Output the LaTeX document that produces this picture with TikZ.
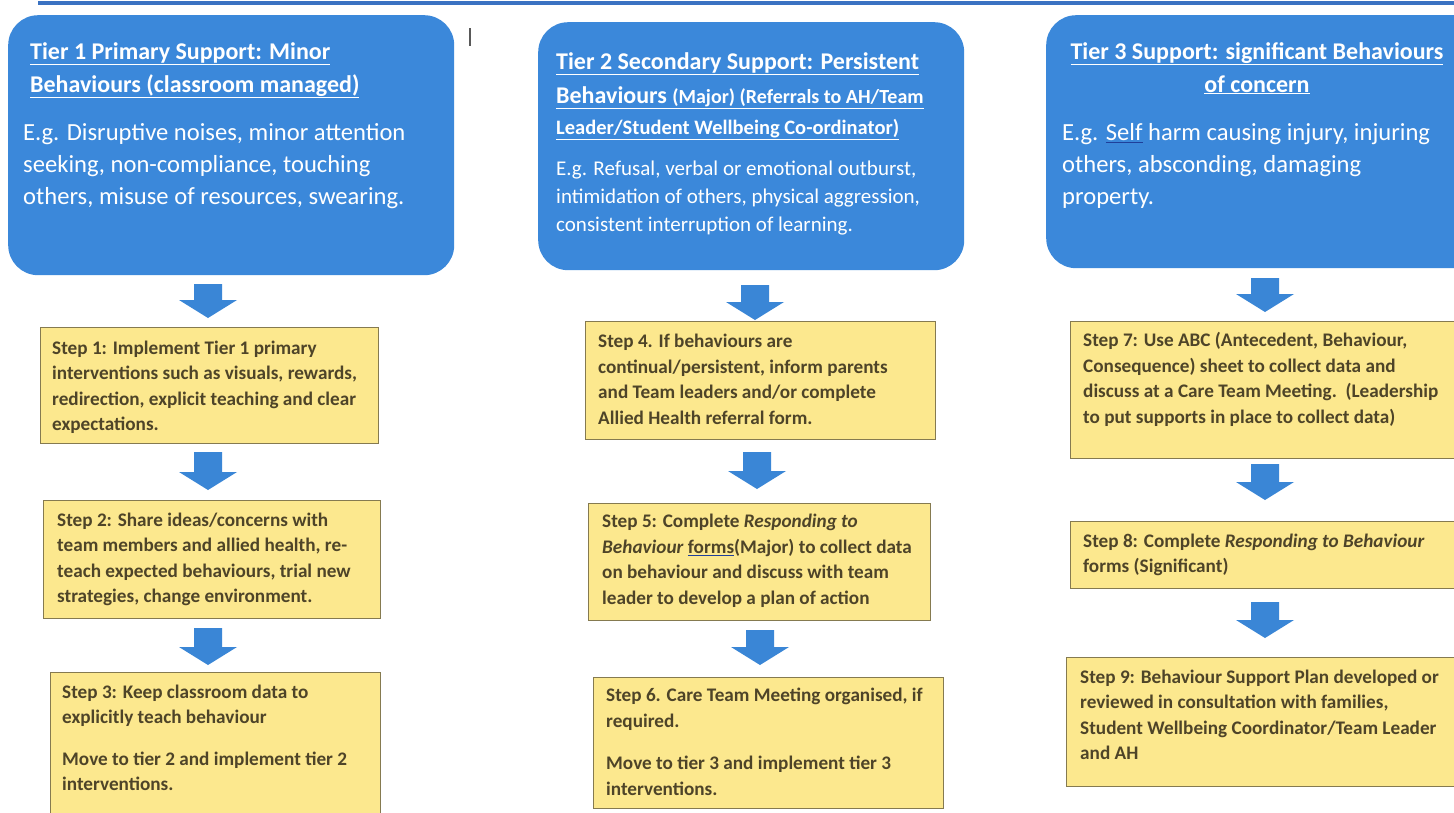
\documentclass[tikz,border=0pt]{standalone}
\usepackage{fontspec}
\setmainfont{Carlito}
\definecolor{tblue}{HTML}{3B88DA}
\definecolor{ablue}{HTML}{3A86D6}
\definecolor{lineblue}{HTML}{3A72C2}
\definecolor{syellow}{HTML}{FCE88E}
\definecolor{sborder}{HTML}{857A50}
\definecolor{stext}{HTML}{4E4428}
\definecolor{spellblue}{HTML}{1F3F9A}
\newcommand\dnarrow[3]{%
  \fill[ablue] (#1-14,#2) -- (#1+14,#2) -- (#1+14,#3-18) -- (#1+29,#3-18) -- (#1,#3) -- (#1-29,#3-18) -- (#1-14,#3-18) -- cycle;}
\newcommand\spellul[1]{\rlap{\color{spellblue}\underline{\phantom{#1}}}#1}
\begin{document}
\begin{tikzpicture}[x=1pt,y=-1pt,
  tierbox/.style={fill=tblue, rounded corners=30pt, draw=none, anchor=north west, inner sep=0},
  stepbox/.style={fill=syellow, draw=sborder, line width=1.3pt, anchor=north west, inner sep=0},
  tiertitle/.style={text=white, font=\bfseries\fontsize{24}{33}\selectfont, inner sep=0, align=left, anchor=north west},
  tierbody/.style={text=white, font=\fontsize{24.6}{32}\selectfont, inner sep=0, align=left, anchor=north west},
  steptext/.style={text=stext, font=\bfseries\fontsize{19.2}{25.5}\selectfont, inner sep=0, align=left, anchor=north west}]
\useasboundingbox (0,0) rectangle (1454,812);
\fill[white] (0,0) rectangle (1454,812);
% top rule
\draw[lineblue, line width=4pt] (38,3) -- (1454,3);
\draw[gray!70!black, line width=1.5pt] (470,28) -- (470,46);

% tier boxes
\node[tierbox, minimum width=446, minimum height=260] (t1) at (8,15) {};
\node[tierbox, minimum width=426, minimum height=248] (t2) at (538,22) {};
\node[tierbox, minimum width=440, minimum height=253] (t3) at (1046,15) {};

% tier texts
\node[tiertitle] (t1h) at (30,42) {\underline{Tier 1 Primary Support: Minor}\\ \underline{Behaviours (classroom managed)}};
\node[tierbody] (t1b) at (23,123.5) {E.g. Disruptive noises, minor attention\\ seeking, non-compliance, touching\\ others, misuse of resources, swearing.};

\node[tiertitle, font=\bfseries\fontsize{24}{33}\selectfont] (t2h) at (556,52) {\underline{Tier 2 Secondary Support: Persistent}\\[1pt]
 \underline{Behaviours {\fontsize{20}{20}\selectfont (Major) (Referrals to AH/Team}}\\[-2pt]
 {\fontsize{20.5}{20}\selectfont\underline{Leader/Student Wellbeing Co-ordinator)}}};
\node[tierbody, font=\fontsize{21}{28}\selectfont] (t2b) at (556,161) {E.g. Refusal, verbal or emotional outburst,\\ intimidation of others, physical aggression,\\ consistent interruption of learning.};

\node[tiertitle, align=center, anchor=north] (t3h) at (1257,42) {\underline{Tier 3 Support: significant Behaviours}\\ \underline{of concern}};
\node[tierbody] (t3b) at (1062,123.5) {E.g. \spellul{Self} harm causing injury, injuring\\ others, absconding, damaging\\ property.};

% step boxes
\node[stepbox, minimum width=338, minimum height=116] (s1) at (40,327) {};
\node[stepbox, minimum width=337, minimum height=118] (s2) at (43,500) {};
\node[stepbox, minimum width=330, minimum height=150] (s3) at (50,672) {};
\node[stepbox, minimum width=350, minimum height=118] (s4) at (585,321) {};
\node[stepbox, minimum width=342, minimum height=117] (s5) at (588,503) {};
\node[stepbox, minimum width=350, minimum height=131] (s6) at (593,677) {};
\node[stepbox, minimum width=394, minimum height=137] (s7) at (1070,321) {};
\node[stepbox, minimum width=394, minimum height=67] (s8) at (1070,521) {};
\node[stepbox, minimum width=398, minimum height=129] (s9) at (1066,657) {};

% step texts
\node[steptext] (s1t) at (52,340.5) {Step 1: Implement Tier 1 primary\\ interventions such as visuals, rewards,\\ redirection, explicit teaching and clear\\ expectations.};
\node[steptext] (s2t) at (57,512.5) {Step 2: Share ideas/concerns with\\ team members and allied health, re-\\ teach expected behaviours, trial new\\ strategies, change environment.};
\node[steptext] (s3t) at (62,684.5) {Step 3: Keep classroom data to\\ explicitly teach behaviour\\[16pt] Move to tier 2 and implement tier 2\\ interventions.};
\node[steptext] (s4t) at (598,334) {Step 4. If behaviours are\\ continual/persistent, inform parents\\ and Team leaders and/or complete\\ Allied Health referral form.};
\node[steptext] (s5t) at (602,514) {Step 5: Complete \textit{Responding to}\\ \textit{Behaviour} \spellul{forms}(Major) to collect data\\ on behaviour and discuss with team\\ leader to develop a plan of action};
\node[steptext] (s6t) at (606,688) {Step 6. Care Team Meeting organised, if\\ required.\\[17pt] Move to tier 3 and implement tier 3\\ interventions.};
\node[steptext] (s7t) at (1083,332.5) {Step 7: Use ABC (Antecedent, Behaviour,\\ Consequence) sheet to collect data and\\ discuss at a Care Team Meeting.\ \ (Leadership\\ to put supports in place to collect data)};
\node[steptext] (s8t) at (1083,533.5) {Step 8: Complete \textit{Responding to Behaviour}\\ forms (Significant)};
\node[steptext] (s9t) at (1080,669.5) {Step 9: Behaviour Support Plan developed or\\ reviewed in consultation with families,\\ Student Wellbeing Coordinator/Team Leader\\ and AH};

% arrows
\dnarrow{208}{284}{318}
\dnarrow{208}{452}{490}
\dnarrow{208}{628}{665}
\dnarrow{755}{285}{320}
\dnarrow{757}{452}{489}
\dnarrow{760}{630}{665}
\dnarrow{1265}{278}{312}
\dnarrow{1265}{464}{500}
\dnarrow{1265}{602}{638}
\end{tikzpicture}
\end{document}
